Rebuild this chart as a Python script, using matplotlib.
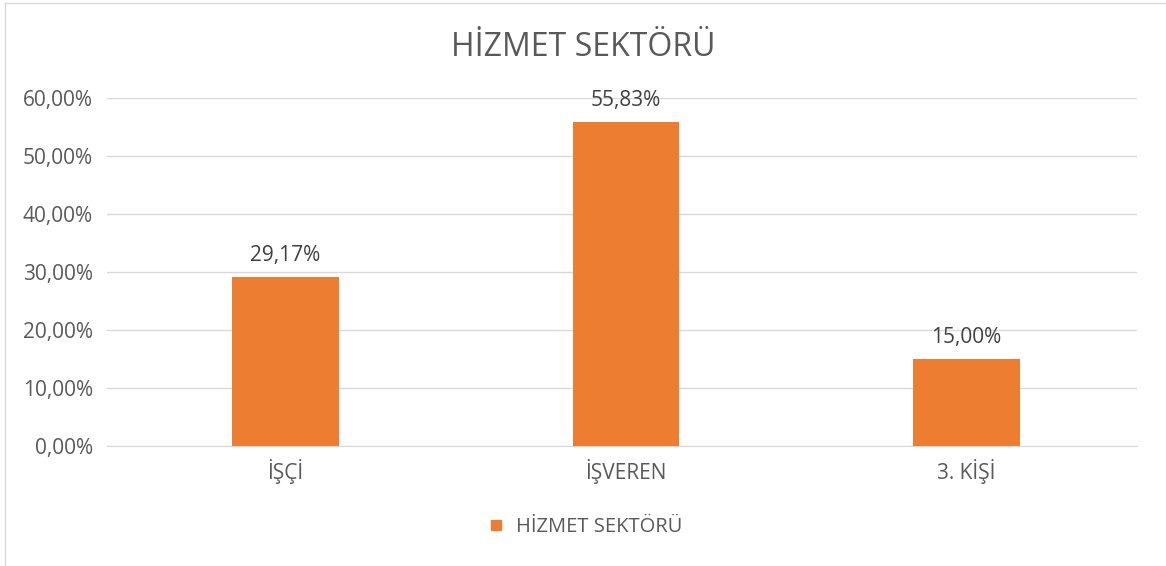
import matplotlib.pyplot as plt
from matplotlib.lines import Line2D

# Veriler
kategoriler = ['İŞÇİ', 'İŞVEREN', '3. KİŞİ']
oranlar = [29.17, 55.83, 15.00]
seri_adi = 'HİZMET SEKTÖRÜ'
y_ticks = [0, 10, 20, 30, 40, 50, 60]

plt.rcParams['font.family'] = ['Open Sans', 'DejaVu Sans']

fig = plt.figure(figsize=(11.66, 5.66), dpi=100)
ax = fig.add_axes([107 / 1166, 120 / 566, (1137 - 107) / 1166, 348 / 566])

renk = '#ED7D31'
x = range(len(kategoriler))
bars = ax.bar(x, oranlar, width=0.314, color=renk, zorder=3, label=seri_adi)

# Çubuk üstü etiketler
for b, v in zip(bars, oranlar):
    ax.annotate(f'{v:.2f}%'.replace('.', ','),
                xy=(b.get_x() + b.get_width() / 2, v),
                xytext=(0, 8), textcoords='offset points',
                ha='center', va='bottom', fontsize=15, color='#404040')

ax.set_xlim(-0.5235, 2.5)
ax.set_ylim(0, 60)
ax.set_yticks(y_ticks)
ax.set_yticklabels([f'{t:.2f}%'.replace('.', ',') for t in y_ticks])
ax.set_xticks(list(x))
ax.set_xticklabels(kategoriler)

ax.grid(axis='y', color='#d9d9d9', linewidth=1, zorder=0)
for s in ['top', 'right', 'left']:
    ax.spines[s].set_visible(False)
ax.spines['bottom'].set_color('#d9d9d9')
ax.tick_params(axis='y', length=0, pad=10, labelsize=15, labelcolor='#595959')
ax.tick_params(axis='x', length=0, pad=9, labelsize=15, labelcolor='#595959')

fig.text(0.5, 1 - 48 / 566, seri_adi, ha='center', va='center', fontsize=23, color='#595959')

fig.legend(handles=[Line2D([], [], marker='s', color=renk, linestyle='none', markersize=7)],
           labels=[seri_adi], loc='center', bbox_to_anchor=(0.497, 1 - 527 / 566),
           frameon=False, fontsize=14.5, labelcolor='#595959', handletextpad=0.0)

# Çerçeve
fig.add_artist(Line2D([5 / 1166, 5 / 1166], [0, 1 - 3 / 566], color='#d9d9d9', lw=1))
fig.add_artist(Line2D([5 / 1166, 1], [1 - 3 / 566, 1 - 3 / 566], color='#d9d9d9', lw=1))

fig.savefig('out.png', dpi=100)
